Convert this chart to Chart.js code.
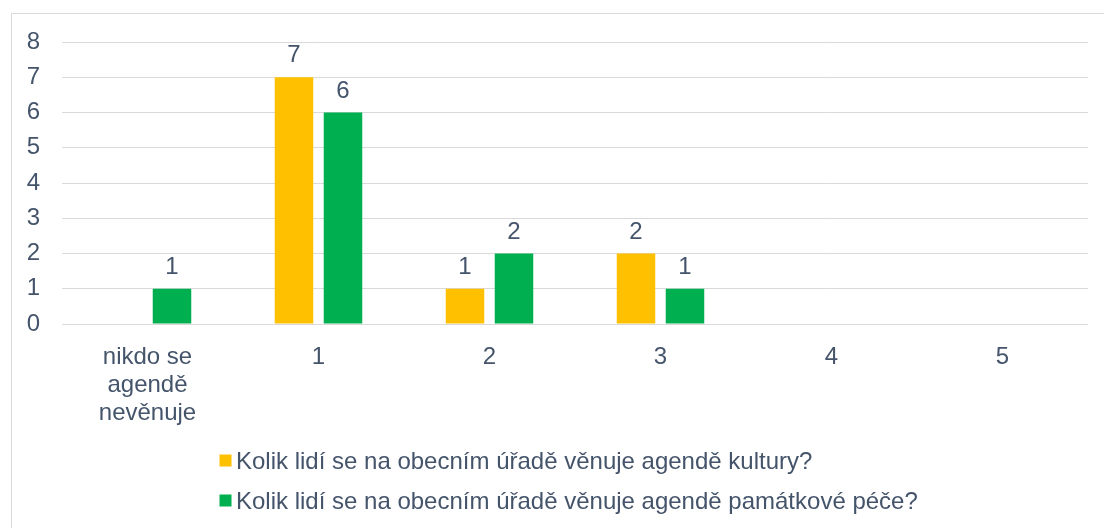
<!DOCTYPE html>
<html>
<head>
<meta charset="utf-8">
<script src="https://cdn.jsdelivr.net/npm/chart.js@4/dist/chart.umd.min.js"></script>
<style>
  html, body { margin: 0; padding: 0; background: #fff; }
  #wrap { position: relative; width: 1104px; height: 528px; }
</style>
</head>
<body>
<div id="wrap"><canvas id="chart" width="1104" height="528"></canvas></div>
<script>
/* ---------------- Data ---------------- */
const categories = [['nikdo se', 'agendě', 'nevěnuje'], '1', '2', '3', '4', '5'];
const kulturaValues = [0, 7, 1, 2, 0, 0];
const pamatkyValues = [1, 6, 2, 1, 0, 0];
const seriesNames = [
    'Kolik lidí se na obecním úřadě věnuje agendě kultury?',
    'Kolik lidí se na obecním úřadě věnuje agendě památkové péče?'
];
const seriesColors = ['#FFC000', '#00B050'];

const TEXT = '#44546A';
const FONT = "'Liberation Sans', Arial, sans-serif";
const FONT_SIZE = 24;

/* ---------------- Plugins ---------------- */
// light frame around the whole chart
const framePlugin = {
    id: 'frame',
    beforeDraw(chart) {
        const c = chart.ctx;
        c.save();
        c.strokeStyle = '#D9D9D9';
        c.lineWidth = 1;
        c.strokeRect(11.5, 13.5, 1200, 600);
        c.restore();
    }
};

// value above each non-zero bar
const valueLabels = {
    id: 'valueLabels',
    afterDatasetsDraw(chart) {
        const c = chart.ctx;
        c.save();
        c.font = FONT_SIZE + 'px ' + FONT;
        c.fillStyle = TEXT;
        c.textAlign = 'center';
        c.textBaseline = 'alphabetic';
        chart.data.datasets.forEach((ds, i) => {
            chart.getDatasetMeta(i).data.forEach((bar, j) => {
                const v = ds.data[j];
                if (!v) return;
                c.fillText(String(v), bar.x, bar.y - 15);
            });
        });
        c.restore();
    }
};

// stacked legend under the plot
const stackedLegend = {
    id: 'stackedLegend',
    afterDraw(chart) {
        const c = chart.ctx;
        c.save();
        c.font = FONT_SIZE + 'px ' + FONT;
        c.textBaseline = 'middle';
        c.textAlign = 'left';
        chart.data.datasets.forEach((ds, i) => {
            const y = 461 + i * 40;
            c.fillStyle = ds.backgroundColor;
            c.fillRect(219.5, y - 6.5, 12, 12);
            c.fillStyle = TEXT;
            c.fillText(ds.label, 236, y + 1);
        });
        c.restore();
    }
};

/* ---------------- Chart ---------------- */
new Chart(document.getElementById('chart'), {
    type: 'bar',
    data: {
        labels: categories,
        datasets: [
            { label: seriesNames[0], data: kulturaValues, backgroundColor: seriesColors[0] },
            { label: seriesNames[1], data: pamatkyValues, backgroundColor: seriesColors[1] }
        ]
    },
    options: {
        responsive: false,
        animation: false,
        events: [],
        layout: { padding: { top: 42, left: 0, right: 16, bottom: 0 } },
        datasets: {
            bar: { categoryPercentage: 0.573, barPercentage: 0.786, borderWidth: 0 }
        },
        plugins: {
            legend: { display: false },
            tooltip: { enabled: false }
        },
        scales: {
            x: {
                grid: { display: false },
                border: { display: false },
                ticks: {
                    color: TEXT,
                    font: { family: FONT, size: FONT_SIZE, lineHeight: 1.17 },
                    padding: 11,
                    maxRotation: 0,
                    autoSkip: false
                },
                afterFit: (s) => { s.height = 204; }
            },
            y: {
                min: 0,
                max: 8,
                grid: { color: '#D9D9D9', lineWidth: 1, drawTicks: false },
                border: { display: false },
                ticks: {
                    stepSize: 1,
                    color: TEXT,
                    font: { family: FONT, size: FONT_SIZE },
                    padding: 22
                },
                afterFit: (s) => { s.width = 62; }
            }
        }
    },
    plugins: [framePlugin, valueLabels, stackedLegend]
});
</script>
</body>
</html>
